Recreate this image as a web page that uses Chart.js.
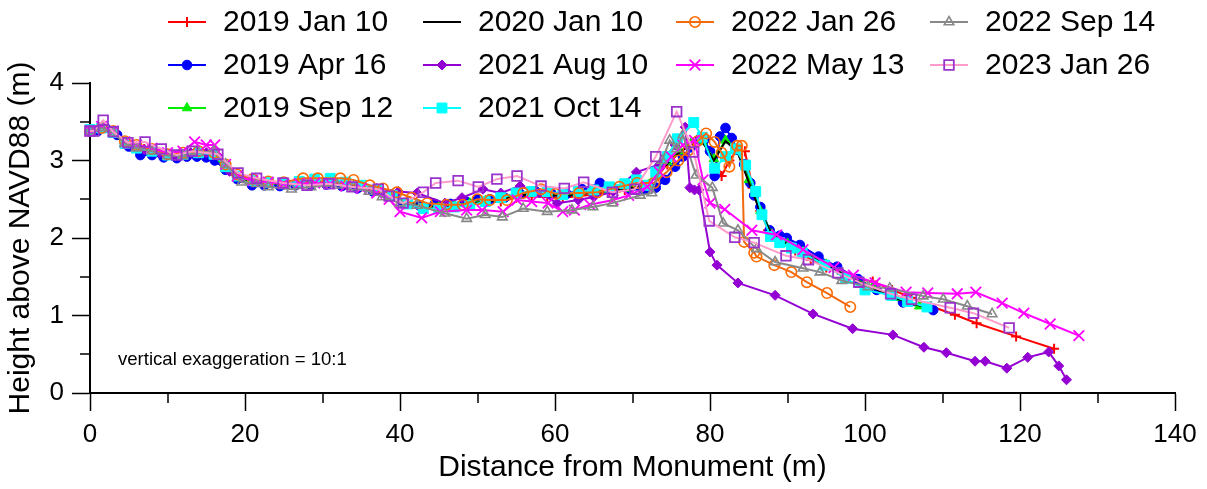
<!DOCTYPE html>
<html><head><meta charset="utf-8">
<script src="https://cdn.jsdelivr.net/npm/chart.js@4.4.1/dist/chart.umd.min.js"></script>
<style>html,body{margin:0;padding:0;background:#fff;overflow:hidden}#wrap{width:1207px;height:489px}</style>
</head><body><div id="wrap"><canvas id="c" width="1207" height="489"></canvas></div>
<script>
// ---- data (distance m, height m) ----
const seriesNames = ['2019 Jan 10','2019 Apr 16','2019 Sep 12','2020 Jan 10','2021 Aug 10','2021 Oct 14','2022 Jan 26','2022 May 13','2022 Sep 14','2023 Jan 26'];
const xTicks = [0,20,40,60,80,100,120,140];
const yTicks = [0,1,2,3,4];
const xMinorTicks = [10,30,50,70,90,110,130];
const yMinorTicks = [0.5,1.5,2.5,3.5];

const jan2019 = [[0,3.38],[1,3.40],[2,3.44],[3,3.37],[4,3.28],[5,3.22],[7,3.15],[9,3.10],[11,3.07],[13,3.10],[15,3.10],[16.5,3.07],[18,2.88],[19.5,2.79],[21,2.74],[23,2.71],[25,2.69],[27,2.70],[29,2.72],[31,2.72],[33,2.69],[35,2.66],[37,2.61],[39,2.56],[41,2.46],[43,2.40],[45,2.38],[47,2.40],[49,2.43],[51,2.46],[53,2.47],[55,2.52],[57,2.54],[59,2.53],[61,2.52],[63,2.54],[65,2.56],[67,2.59],[69,2.62],[71,2.67],[73,2.78],[74.5,2.95],[76,3.10],[77.5,3.22],[79,3.28],[80.5,3.05],[81.5,2.80],[82.5,3.00],[83.5,3.14],[84.5,3.12],[85.5,2.65],[86.5,2.35],[87.5,2.10],[89,1.96],[91,1.84],[93,1.72],[95,1.62],[97,1.54],[99,1.47],[101,1.44],[103.5,1.33],[106,1.23],[108.5,1.12],[111.6,1.01],[114.4,0.90],[119.5,0.73],[124.4,0.57]];
const apr2019 = [[0,3.37],[1,3.38],[2,3.42],[3.5,3.33],[5,3.18],[6.5,3.07],[8,3.07],[9.5,3.04],[11.2,3.03],[12.5,3.05],[13.8,3.05],[15,3.04],[16.1,3.00],[17.5,2.88],[19,2.76],[20.9,2.68],[22.5,2.68],[24.5,2.67],[26.5,2.68],[28.5,2.69],[30.5,2.69],[32.5,2.67],[34.5,2.64],[36.5,2.60],[38.5,2.55],[40.5,2.45],[42.5,2.42],[44.5,2.44],[46.5,2.44],[48.5,2.47],[50,2.50],[51.6,2.50],[53.5,2.52],[55.5,2.57],[57.5,2.60],[59.5,2.58],[61.5,2.57],[63.5,2.63],[65.8,2.71],[67.5,2.64],[69.5,2.63],[71.5,2.62],[73,2.65],[74.2,2.75],[75.5,2.92],[76.5,3.05],[77.5,3.17],[78.7,3.28],[79.3,3.27],[80,3.12],[80.6,2.80],[81.3,3.31],[82,3.42],[82.8,3.29],[83.5,3.14],[84.4,2.95],[85.2,2.71],[85.7,2.55],[86.5,2.40],[87.7,2.10],[89,2.03],[89.9,2.00],[91.6,1.91],[94,1.76],[96.4,1.63],[99.1,1.47],[101.5,1.33],[104.9,1.17],[108.8,1.07]];
const sep2019 = [[0,3.38],[1.5,3.42],[3,3.36],[4.5,3.22],[6,3.15],[8,3.10],[10,3.06],[12,3.07],[14,3.09],[16,3.06],[17.5,2.90],[19,2.78],[21,2.72],[23,2.70],[25,2.69],[27,2.71],[29,2.73],[31,2.73],[33,2.70],[35,2.66],[37,2.62],[39,2.56],[41,2.45],[43,2.40],[45,2.40],[47,2.42],[49,2.45],[51,2.48],[53,2.50],[55,2.55],[57,2.58],[59,2.57],[61,2.55],[63,2.57],[65,2.60],[67,2.62],[69,2.64],[71,2.68],[73,2.80],[74.5,2.98],[76,3.12],[77.5,3.22],[79,3.24],[80.5,3.02],[82,3.26],[83.5,3.15],[85,2.75],[86.5,2.35],[88,2.05],[90,1.93],[92,1.82],[95,1.66],[98,1.50],[101,1.37],[104,1.23],[107,1.12]];
const jan2020 = [[0,3.37],[1.5,3.41],[3,3.35],[4.5,3.21],[6,3.15],[8,3.11],[10,3.06],[12,3.06],[14,3.08],[16,3.07],[17.5,2.92],[19,2.79],[21,2.73],[23,2.71],[25,2.70],[27,2.71],[29,2.72],[31,2.71],[33,2.69],[35,2.66],[37,2.61],[39,2.55],[41,2.46],[43,2.41],[45,2.40],[47,2.41],[49,2.44],[51,2.47],[53,2.49],[55,2.54],[57,2.57],[59,2.56],[61,2.54],[63,2.56],[65,2.59],[67,2.61],[69,2.63],[71,2.67],[73,2.78],[74.5,2.96],[76,3.10],[77.5,3.20],[79,3.25],[80.5,3.00],[82,3.25],[83.5,3.12],[85,2.72],[86.5,2.33],[88,2.05],[90,1.92],[92,1.81],[95,1.65],[98,1.49],[101,1.36],[104,1.22],[108,1.10]];
const aug2021 = [[0,3.38],[1.5,3.42],[3,3.38],[5,3.22],[7,3.14],[9,3.10],[11,3.06],[13,3.10],[15,3.10],[16.5,3.06],[18,2.86],[19.5,2.78],[21,2.74],[23,2.71],[25,2.70],[27,2.71],[29,2.73],[31,2.72],[33,2.70],[35,2.68],[37,2.64],[39.8,2.60],[42.2,2.58],[45.8,2.45],[48,2.52],[50.7,2.63],[53,2.58],[55.5,2.67],[58,2.58],[60.3,2.45],[63,2.49],[65,2.53],[67.5,2.60],[70.5,2.85],[73.5,2.95],[75.5,3.20],[76.8,3.43],[77.4,2.65],[78,2.62],[78.6,2.62],[80,1.82],[80.9,1.65],[83.6,1.42],[88.4,1.26],[93.3,1.02],[98.4,0.83],[103.6,0.75],[107.6,0.59],[110.5,0.52],[114.2,0.41],[115.5,0.41],[118.3,0.32],[121,0.46],[123.7,0.53],[125,0.35],[126,0.17]];
const oct2021 = [[0,3.40],[1.5,3.42],[3,3.36],[4.5,3.22],[6,3.16],[8,3.12],[10,3.07],[12,3.08],[14,3.10],[16,3.08],[17.5,2.92],[19,2.80],[21,2.74],[23,2.72],[25,2.70],[27,2.73],[29,2.76],[31,2.77],[33,2.72],[35,2.68],[37,2.62],[39,2.55],[41,2.44],[43,2.38],[45,2.38],[47,2.40],[49,2.42],[51,2.47],[53,2.52],[55,2.58],[57,2.60],[59,2.60],[61,2.56],[63,2.60],[65,2.62],[67,2.66],[69,2.70],[70.5,2.75],[71.9,2.68],[73,2.85],[74.5,3.05],[75.8,3.28],[77.9,3.49],[79,3.30],[80.6,2.90],[82,3.05],[83.3,3.15],[84.6,2.94],[85.9,2.60],[86.7,2.30],[87.8,2.02],[89,1.94],[90.5,1.87],[91.9,1.81],[94.8,1.65],[97.5,1.48],[100,1.33],[103.4,1.26],[105.5,1.18],[108,1.11]];
const jan2022 = [[0,3.38],[1.5,3.42],[3,3.38],[4.5,3.25],[6,3.20],[8,3.15],[10,3.08],[12,3.10],[14,3.12],[16,3.10],[17.5,2.95],[19,2.82],[21,2.76],[23,2.73],[25,2.72],[27.5,2.77],[29.4,2.77],[32.3,2.77],[34,2.75],[36.1,2.68],[37.8,2.64],[39.6,2.59],[41.5,2.52],[43.5,2.45],[46,2.43],[48.1,2.43],[50,2.50],[51.6,2.49],[53.8,2.49],[55.9,2.58],[58.2,2.63],[60.1,2.57],[63.1,2.58],[65.5,2.59],[68.3,2.66],[70.6,2.71],[72.8,2.71],[74.4,2.85],[75.9,3.00],[77.2,3.13],[78.4,3.25],[79.5,3.35],[80.6,3.24],[81.5,3.10],[82.5,2.92],[83.5,3.19],[84.1,3.19],[84.4,1.95],[85.7,1.81],[86,1.76],[88.3,1.65],[90.5,1.56],[92.5,1.43],[95.1,1.29],[98.1,1.11]];
const may2022 = [[0,3.38],[1.5,3.44],[3,3.38],[4.5,3.24],[6,3.20],[8,3.16],[10,3.10],[12,3.12],[13.5,3.24],[15,3.20],[16.1,3.20],[17.5,2.95],[19,2.80],[21,2.74],[23,2.72],[25,2.70],[27,2.70],[29,2.71],[31,2.70],[33,2.67],[35,2.64],[37,2.58],[38.6,2.50],[40,2.34],[42.8,2.26],[45.2,2.34],[48.6,2.36],[50.6,2.36],[53.3,2.34],[55.1,2.49],[57,2.47],[59.1,2.45],[61,2.34],[62.5,2.36],[64.5,2.43],[67.5,2.49],[69.5,2.55],[71.9,2.66],[73.5,2.85],[75,3.05],[76.5,3.20],[78,3.26],[79.1,2.75],[80,2.45],[81.9,2.37],[85.4,2.10],[88.6,2.04],[92,1.85],[96,1.62],[98.5,1.52],[101.3,1.42],[105.3,1.30],[108.1,1.29],[111.9,1.28],[114.3,1.30],[117.7,1.16],[120.5,1.03],[123.9,0.89],[127.6,0.74]];
const sep2022 = [[0,3.38],[1.5,3.42],[3,3.36],[4.5,3.22],[6,3.16],[8,3.12],[10,3.06],[12,3.06],[14,3.10],[16,3.12],[17.5,2.95],[19.6,2.72],[21.5,2.70],[23,2.66],[26,2.63],[28.5,2.66],[31.9,2.68],[34,2.66],[36,2.60],[37.7,2.53],[40,2.45],[42.2,2.42],[45.8,2.32],[48.6,2.25],[51,2.30],[53.2,2.27],[55.9,2.38],[59,2.34],[62.2,2.36],[64.9,2.40],[67.4,2.45],[71,2.55],[72.5,2.58],[73.8,3.00],[74.8,3.26],[75.7,3.15],[76.5,3.33],[78.2,2.81],[80.3,2.65],[81.7,2.19],[83.6,2.10],[86,1.86],[88.4,1.69],[92,1.61],[94.2,1.56],[97,1.45],[100.4,1.37],[103.2,1.35],[107.5,1.25],[110.1,1.21],[113.2,1.12],[116.4,1.02]];
const jan2023 = [[0,3.38],[0.5,3.38],[1.7,3.52],[3,3.37],[4.9,3.23],[7.1,3.24],[9.2,3.15],[11.2,3.07],[13.2,3.12],[16.5,3.08],[19.1,2.84],[21.5,2.77],[24.9,2.71],[28,2.68],[30.8,2.70],[33.8,2.66],[37.2,2.63],[38.6,2.54],[40.4,2.45],[43,2.59],[44.6,2.71],[47.5,2.74],[50.1,2.66],[52.5,2.76],[55.1,2.80],[58.2,2.67],[61.2,2.64],[63.7,2.72],[67.4,2.59],[70.3,2.63],[73,3.05],[75.7,3.63],[77.9,3.11],[79.9,2.22],[83.2,2.01],[85.7,1.94],[89.8,1.77],[92.7,1.72],[96.5,1.55],[99.2,1.43],[103.3,1.28],[106,1.21],[111,1.10],[114,1.03],[118.6,0.84]];

const seriesData = [jan2019, apr2019, sep2019, jan2020, aug2021, oct2021, jan2022, may2022, sep2022, jan2023];
const legendCol = [0,0,0,1,1,1,2,2,3,3];
const legendRow = [0,1,2,0,1,2,0,1,0,1];

// ---- styles ----
const FONT = "'Liberation Sans', Arial, sans-serif";
const styles = [
  {line:'#ff0000', pb:'#ff0000', pf:'#ff0000', ps:'cross', r:5, pw:2},
  {line:'#0000ff', pb:'#0000ff', pf:'#0000ff', ps:'circle', r:4.8, pw:1},
  {line:'#00ee00', pb:'#00ee00', pf:'#00ee00', ps:'triangle', r:5.5, pw:1},
  {line:'#000000', pb:'#000000', pf:'#000000', ps:'circle', r:0, pw:0},
  {line:'#9400d3', pb:'#9400d3', pf:'#9400d3', ps:'rectRot', r:5, pw:1},
  {line:'#00ffff', pb:'#00ffff', pf:'#00ffff', ps:'rect', r:7, pw:1},
  {line:'#f26a10', pb:'#ff6a00', pf:'rgba(0,0,0,0)', ps:'circle', r:5.2, pw:1.6},
  {line:'#ff00ff', pb:'#ff00ff', pf:'#ff00ff', ps:'crossRot', r:7.5, pw:1.8},
  {line:'#888888', pb:'#888888', pf:'rgba(0,0,0,0)', ps:'triangle', r:5.5, pw:1.6},
  {line:'#ff9acb', pb:'#9933cc', pf:'rgba(0,0,0,0)', ps:'rect', r:6.8, pw:1.8}
];

const datasets = seriesData.map((pts, i) => ({
  label: seriesNames[i],
  data: pts.map(p => ({x: p[0], y: p[1]})),
  showLine: true,
  borderColor: styles[i].line,
  backgroundColor: styles[i].line,
  borderWidth: 2,
  pointStyle: styles[i].ps,
  pointRadius: styles[i].r,
  pointHoverRadius: styles[i].r,
  pointBorderColor: styles[i].pb,
  pointBackgroundColor: styles[i].pf,
  pointBorderWidth: styles[i].pw,
  tension: 0,
  clip: false,
  order: seriesNames.length - i
}));

const legendColX = [168, 423, 676, 930];
const legendRowY = [22, 65, 108];
const legendLineLen = 38;
const legendTextGap = 55;

const customLegend = {
  id: 'customLegend',
  afterDraw(chart) {
    const ctx = chart.ctx;
    ctx.save();
    chart.data.datasets.forEach((ds, i) => {
      const x0 = legendColX[legendCol[i]];
      const y = legendRowY[legendRow[i]];
      ctx.strokeStyle = ds.borderColor;
      ctx.lineWidth = 2;
      ctx.beginPath(); ctx.moveTo(x0, y); ctx.lineTo(x0 + legendLineLen, y); ctx.stroke();
      if (ds.pointRadius > 0) {
        ctx.fillStyle = ds.pointBackgroundColor;
        ctx.strokeStyle = ds.pointBorderColor;
        ctx.lineWidth = ds.pointBorderWidth;
        Chart.helpers.drawPoint(ctx, {pointStyle: ds.pointStyle, radius: ds.pointRadius, borderWidth: ds.pointBorderWidth, rotation: 0}, x0 + legendLineLen / 2, y);
      }
      ctx.fillStyle = '#000';
      ctx.font = '30px ' + FONT;
      ctx.textBaseline = 'middle';
      ctx.textAlign = 'left';
      ctx.fillText(ds.label, x0 + legendTextGap, y + 1);
    });
    ctx.restore();
  }
};

const minorTicks = {
  id: 'minorTicks',
  afterDraw(chart) {
    const {ctx, scales: {x, y}} = chart;
    ctx.save();
    ctx.strokeStyle = '#000';
    ctx.lineWidth = 1.5;
    ctx.beginPath();
    xMinorTicks.forEach(v => { const px = Math.round(x.getPixelForValue(v)); ctx.moveTo(px, y.bottom); ctx.lineTo(px, y.bottom + 10); });
    yMinorTicks.forEach(v => { const py = Math.round(y.getPixelForValue(v)); ctx.moveTo(x.left, py); ctx.lineTo(x.left - 10, py); });
    ctx.stroke();
    // annotation
    ctx.fillStyle = '#000';
    ctx.font = '18.6px ' + FONT;
    ctx.textBaseline = 'middle';
    ctx.textAlign = 'left';
    ctx.fillText('vertical exaggeration = 10:1', x.getPixelForValue(3.6), y.getPixelForValue(0.43));
    ctx.restore();
  }
};

const axisCommon = {
  grid: {display: true, drawOnChartArea: false, drawTicks: true, tickLength: 18, tickWidth: 1.5, tickColor: '#000'},
  border: {display: true, color: '#000', width: 2}
};

new Chart(document.getElementById('c'), {
  type: 'scatter',
  data: {datasets},
  plugins: [customLegend, minorTicks],
  options: {
    responsive: false,
    devicePixelRatio: 1,
    animation: false,
    events: [],
    layout: {padding: {top: 83, right: 32, bottom: 0, left: 0}},
    plugins: {legend: {display: false}, tooltip: {enabled: false}},
    scales: {
      x: Object.assign({}, axisCommon, {
        type: 'linear', min: 0, max: 140,
        afterBuildTicks: s => { s.ticks = xTicks.map(v => ({value: v})); },
        ticks: {color: '#000', font: {family: FONT, size: 26}, padding: 8, maxRotation: 0, autoSkip: false},
        title: {display: true, text: 'Distance from Monument (m)', color: '#000', font: {family: FONT, size: 30}, padding: {top: 0, bottom: 3}},
        afterFit: s => { s.height = 96; }
      }),
      y: Object.assign({}, axisCommon, {
        type: 'linear', min: 0, max: 4,
        afterBuildTicks: s => { s.ticks = yTicks.map(v => ({value: v})); },
        ticks: {color: '#000', font: {family: FONT, size: 26}, padding: 8},
        title: {display: true, text: 'Height above NAVD88 (m)', color: '#000', font: {family: FONT, size: 30}, padding: {top: 3, bottom: 0}},
        afterFit: s => { s.width = 90; }
      })
    }
  }
});
</script>
</body></html>
